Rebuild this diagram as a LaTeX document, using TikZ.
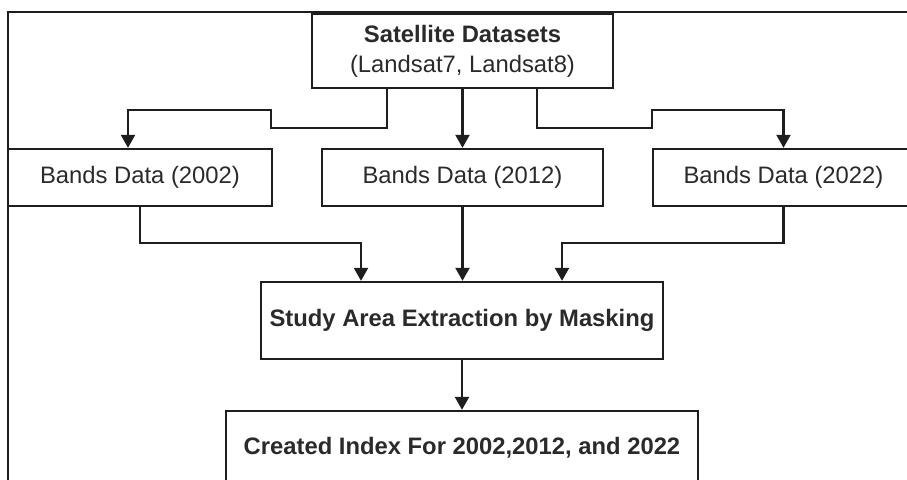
\documentclass[tikz,border=0pt]{standalone}
\usepackage{fontspec}
\setmainfont{Liberation Sans}
\usetikzlibrary{arrows.meta}
\definecolor{ink}{HTML}{1E1E1E}
\definecolor{txt}{HTML}{2A2A2A}
\newcommand\stage[5]{\node[stage,minimum width=#3,minimum height=#4] (#1) at #2 {#5};}
\newcommand\link[2]{\draw[link] (#1) -- (#2);}

\begin{document}
\begin{tikzpicture}[x=0.5pt,y=-0.5pt]
\tikzstyle{stage}=[draw=ink,line width=1.2pt,rectangle,inner sep=0pt,text=txt,align=center,font=\fontsize{11.9pt}{15pt}\selectfont]
\tikzstyle{link}=[draw=ink,line width=1.2pt,-{Triangle[width=7pt,length=6.5pt]}]
\tikzstyle{frame}=[draw=ink,line width=1.2pt]
\useasboundingbox (0,0) rectangle (907,479);
\clip (0,0) rectangle (907,479);

%% outer frame
\draw[frame] (8,490) -- (8,12) -- (915,12);

%% boxes
\stage{sat}{(462.5,51)}{150.5pt}{37pt}{\textbf{Satellite Datasets}\\(Landsat7, Landsat8)}
\stage{b02}{(140,177.5)}{132pt}{28.5pt}{Bands Data (2002)}
\stage{b12}{(462.5,177.5)}{140.5pt}{28.5pt}{Bands Data (2012)}
\stage{b22}{(783.5,177.5)}{130.5pt}{28.5pt}{Bands Data (2022)}
\stage{mask}{(462,320.5)}{201pt}{38.5pt}{\textbf{Study Area Extraction by Masking}}
\stage{index}{(462,448)}{236pt}{37pt}{\textbf{Created Index For 2002,2012, and 2022}}

%% connections
\draw[link] ([xshift=-37.75pt]sat.south) |- (271,128) |- (128,110) -- ([xshift=-6pt]b02.north);
\link{sat.south}{b12.north}
\draw[link] ([xshift=37.25pt]sat.south) |- (652,128) |- (783.5,110) -- (b22.north);
\draw[link] (b02.south) |- (361,243) -- ([xshift=-50.5pt]mask.north);
\link{b12.south}{b12.south |- mask.north}
\draw[link] (b22.south) |- (562,243) -- ([xshift=50pt]mask.north);
\link{mask.south}{index.north}
\end{tikzpicture}
\end{document}
